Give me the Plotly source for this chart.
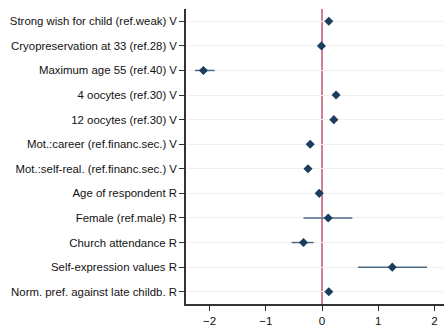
import plotly.graph_objects as go

labels = [
    "Strong wish for child (ref.weak) V",
    "Cryopreservation at 33 (ref.28) V",
    "Maximum age 55 (ref.40) V",
    "4 oocytes (ref.30) V",
    "12 oocytes (ref.30) V",
    "Mot.:career (ref.financ.sec.) V",
    "Mot.:self-real. (ref.financ.sec.) V",
    "Age of respondent R",
    "Female (ref.male) R",
    "Church attendance R",
    "Self-expression values R",
    "Norm. pref. against late childb. R",
]
estimates = [0.12, -0.01, -2.11, 0.25, 0.21, -0.21, -0.25, -0.05, 0.11, -0.33, 1.25, 0.12]
ci_low = [0.10, -0.03, -2.26, 0.23, 0.19, -0.23, -0.27, -0.07, -0.33, -0.54, 0.64, 0.10]
ci_high = [0.14, 0.01, -1.91, 0.27, 0.23, -0.19, -0.23, -0.03, 0.54, -0.15, 1.87, 0.14]
x_ticks = [-2, -1, 0, 1, 2]

err_plus = [h - e for h, e in zip(ci_high, estimates)]
err_minus = [e - l for e, l in zip(estimates, ci_low)]

fig = go.Figure()
fig.add_trace(go.Scatter(
    x=estimates, y=labels, mode="markers",
    marker=dict(symbol="diamond", size=7, color="#1c3d5e"),
    error_x=dict(type="data", symmetric=False, array=err_plus, arrayminus=err_minus,
                 width=0, thickness=1.5, color="#4d6a82"),
    showlegend=False,
))
fig.add_vline(x=0, line=dict(color="#c4607c", width=1.6), layer="below")

fig.update_layout(
    width=447, height=335,
    margin=dict(l=186, r=3, t=9, b=31, autoexpand=False),
    paper_bgcolor="white", plot_bgcolor="white",
    font=dict(family="Liberation Sans, Arial, sans-serif", size=11.4, color="#111111"),
)
fig.update_xaxes(
    range=[-2.42, 2.17], tickvals=x_ticks, ticks="outside", ticklen=5, tickcolor="#333333",
    showline=True, linecolor="#333333", linewidth=1.5, showgrid=False, zeroline=False,
    tickfont=dict(size=11.6), automargin=False,
)
fig.update_yaxes(
    categoryorder="array", categoryarray=labels,
    range=[len(labels) - 0.5, -0.5],
    ticks="outside", ticklen=5, tickcolor="#333333",
    showline=True, linecolor="#333333", linewidth=1.5,
    showgrid=True, gridcolor="#eef0f2", gridwidth=1, zeroline=False,
    tickfont=dict(size=11.4), automargin=False,
)
fig.write_html(
    "out.html",
    config={"displayModeBar": False},
    post_script="document.body.style.margin='0';document.body.style.overflow='hidden';",
)
